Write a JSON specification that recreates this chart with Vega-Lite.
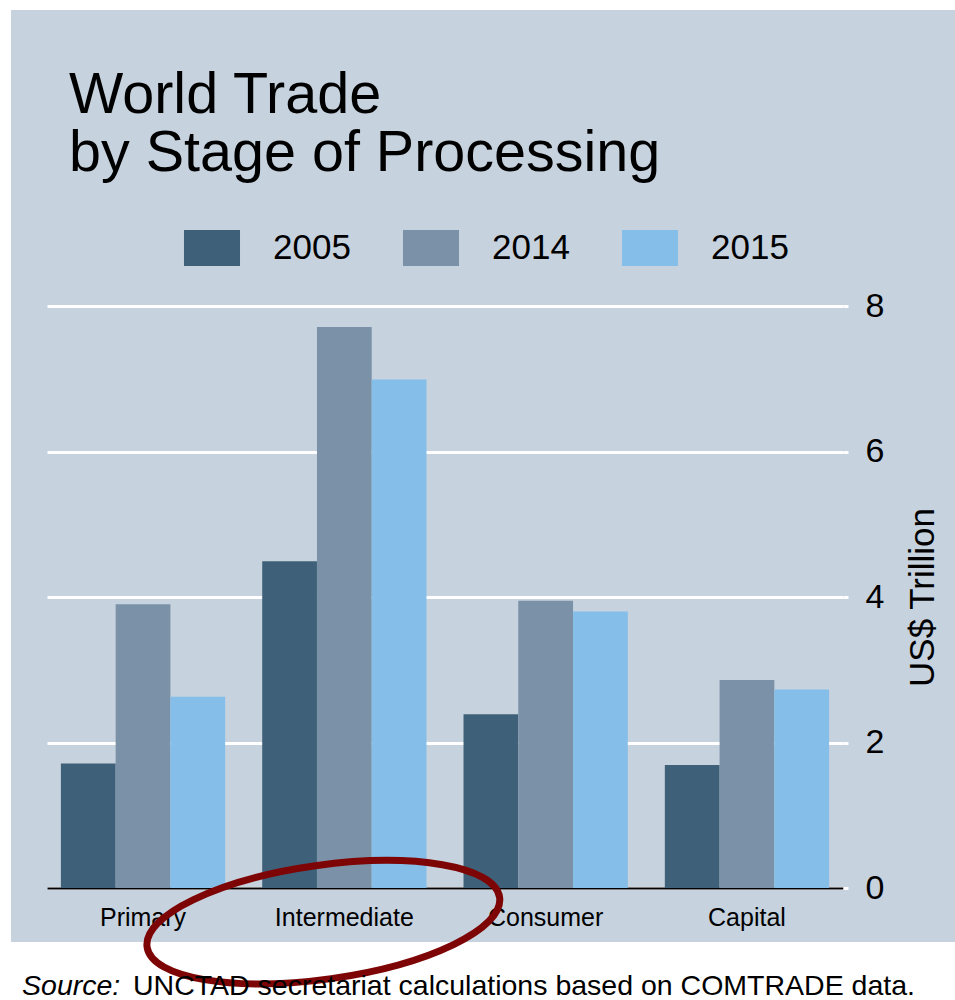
{
  "$schema": "https://vega.github.io/schema/vega-lite/v6.json",
  "width": 944,
  "height": 932,
  "autosize": "none",
  "padding": {"left": 11, "top": 10, "right": 0, "bottom": 58},
  "background": "#ffffff",
  "config": {
    "font": "Liberation Sans",
    "view": {"fill": "#c6d2de", "stroke": null}
  },
  "title": {
    "text": ["World Trade", "by Stage of Processing"],
    "orient": "top",
    "anchor": "start",
    "frame": "group",
    "font": "Liberation Sans",
    "fontSize": 57.5,
    "fontWeight": "normal",
    "color": "#000000",
    "lineHeight": 58,
    "offset": -173,
    "dx": 58
  },
  "data": {
    "values": [
      {"stage": "Primary", "year": "2005", "value": 1.71},
      {"stage": "Primary", "year": "2014", "value": 3.90},
      {"stage": "Primary", "year": "2015", "value": 2.63},
      {"stage": "Intermediate", "year": "2005", "value": 4.49},
      {"stage": "Intermediate", "year": "2014", "value": 7.71},
      {"stage": "Intermediate", "year": "2015", "value": 6.99},
      {"stage": "Consumer", "year": "2005", "value": 2.39},
      {"stage": "Consumer", "year": "2014", "value": 3.95},
      {"stage": "Consumer", "year": "2015", "value": 3.80},
      {"stage": "Capital", "year": "2005", "value": 1.69},
      {"stage": "Capital", "year": "2014", "value": 2.86},
      {"stage": "Capital", "year": "2015", "value": 2.73}
    ]
  },
  "resolve": {"axis": {"y": "independent"}},
  "layer": [
    {
      "mark": {"type": "bar"},
      "encoding": {
        "x": {
          "field": "stage",
          "type": "nominal",
          "scale": {
            "domain": ["Primary", "Intermediate", "Consumer", "Capital"],
            "range": [36, 832],
            "paddingInner": 0.184,
            "paddingOuter": 0.069
          },
          "axis": {
            "orient": "bottom",
            "offset": -54,
            "title": null,
            "labelAngle": 0,
            "labelFont": "Liberation Sans",
            "labelFontSize": 25,
            "labelColor": "#000000",
            "labelPadding": 17,
            "ticks": false,
            "tickSize": 0,
            "domainColor": "#000000",
            "domainWidth": 2,
            "grid": false
          }
        },
        "xOffset": {
          "field": "year",
          "type": "nominal",
          "scale": {"domain": ["2005", "2014", "2015"], "paddingInner": 0, "paddingOuter": 0}
        },
        "y": {
          "field": "value",
          "type": "quantitative",
          "scale": {"domain": [0, 8], "range": [878, 296], "nice": false},
          "axis": {
            "orient": "left",
            "values": [0, 2, 4, 6, 8],
            "title": null,
            "labels": false,
            "ticks": false,
            "domain": false,
            "grid": true,
            "gridColor": "#ffffff",
            "gridWidth": 3,
            "gridOpacity": 1
          }
        },
        "color": {
          "field": "year",
          "type": "nominal",
          "scale": {"domain": ["2005", "2014", "2015"], "range": ["#3e6179", "#7b91a7", "#84bee9"]},
          "legend": {
            "orient": "none",
            "legendX": 183,
            "legendY": 220,
            "direction": "horizontal",
            "title": null,
            "symbolType": "M-1.556,-1L1.556,-1L1.556,1L-1.556,1Z",
            "symbolSize": 1296,
            "symbolStrokeWidth": 0,
            "symbolOpacity": 1,
            "labelFont": "Liberation Sans",
            "labelFontSize": 35,
            "labelColor": "#000000",
            "labelOffset": 43,
            "columnPadding": 51
          }
        }
      }
    },
    {
      "data": {"values": [{"note": "Intermediate"}]},
      "mark": {
        "type": "point",
        "shape": "M1.5527,-0.2477C1.5965,0.0641 0.8428,0.4277 -0.1307,0.5645C-1.1042,0.7013 -1.9289,0.5595 -1.9727,0.2477C-2.0165,-0.0641 -1.2628,-0.4277 -0.2893,-0.5645C0.6842,-0.7013 1.5089,-0.5595 1.5527,-0.2477Z",
        "size": 40000,
        "filled": false,
        "color": "#7d0505",
        "strokeWidth": 7,
        "opacity": 1
      },
      "encoding": {
        "x": {"field": "note", "type": "nominal"},
        "y": {
          "datum": -0.47,
          "axis": {
            "orient": "right",
            "offset": -112,
            "values": [0, 2, 4, 6, 8],
            "format": "d",
            "title": "US$ Trillion",
            "titleFont": "Liberation Sans",
            "titleFontSize": 35,
            "titleFontWeight": "normal",
            "titleColor": "#000000",
            "titleAngle": 270,
            "titleBaseline": "top",
            "titlePadding": 22,
            "labelFont": "Liberation Sans",
            "labelFontSize": 34,
            "labelColor": "#000000",
            "labelPadding": 17,
            "tickSize": 5,
            "tickColor": "#ffffff",
            "tickWidth": 3,
            "domain": false,
            "grid": false
          }
        }
      }
    },
    {
      "data": {"values": [{"t": "Source:"}]},
      "mark": {"type": "text", "align": "left", "baseline": "alphabetic", "font": "Liberation Sans", "fontStyle": "italic", "fontSize": 28.5, "dx": -121, "color": "#000000"},
      "encoding": {
        "x": {"datum": "Primary"},
        "y": {"datum": -1.47, "axis": null},
        "text": {"field": "t"}
      }
    },
    {
      "data": {"values": [{"t": "UNCTAD secretariat calculations based on COMTRADE data."}]},
      "mark": {"type": "text", "align": "left", "baseline": "alphabetic", "font": "Liberation Sans", "fontSize": 28.5, "dx": -10, "color": "#000000"},
      "encoding": {
        "x": {"datum": "Primary"},
        "y": {"datum": -1.47, "axis": null},
        "text": {"field": "t"}
      }
    }
  ]
}
